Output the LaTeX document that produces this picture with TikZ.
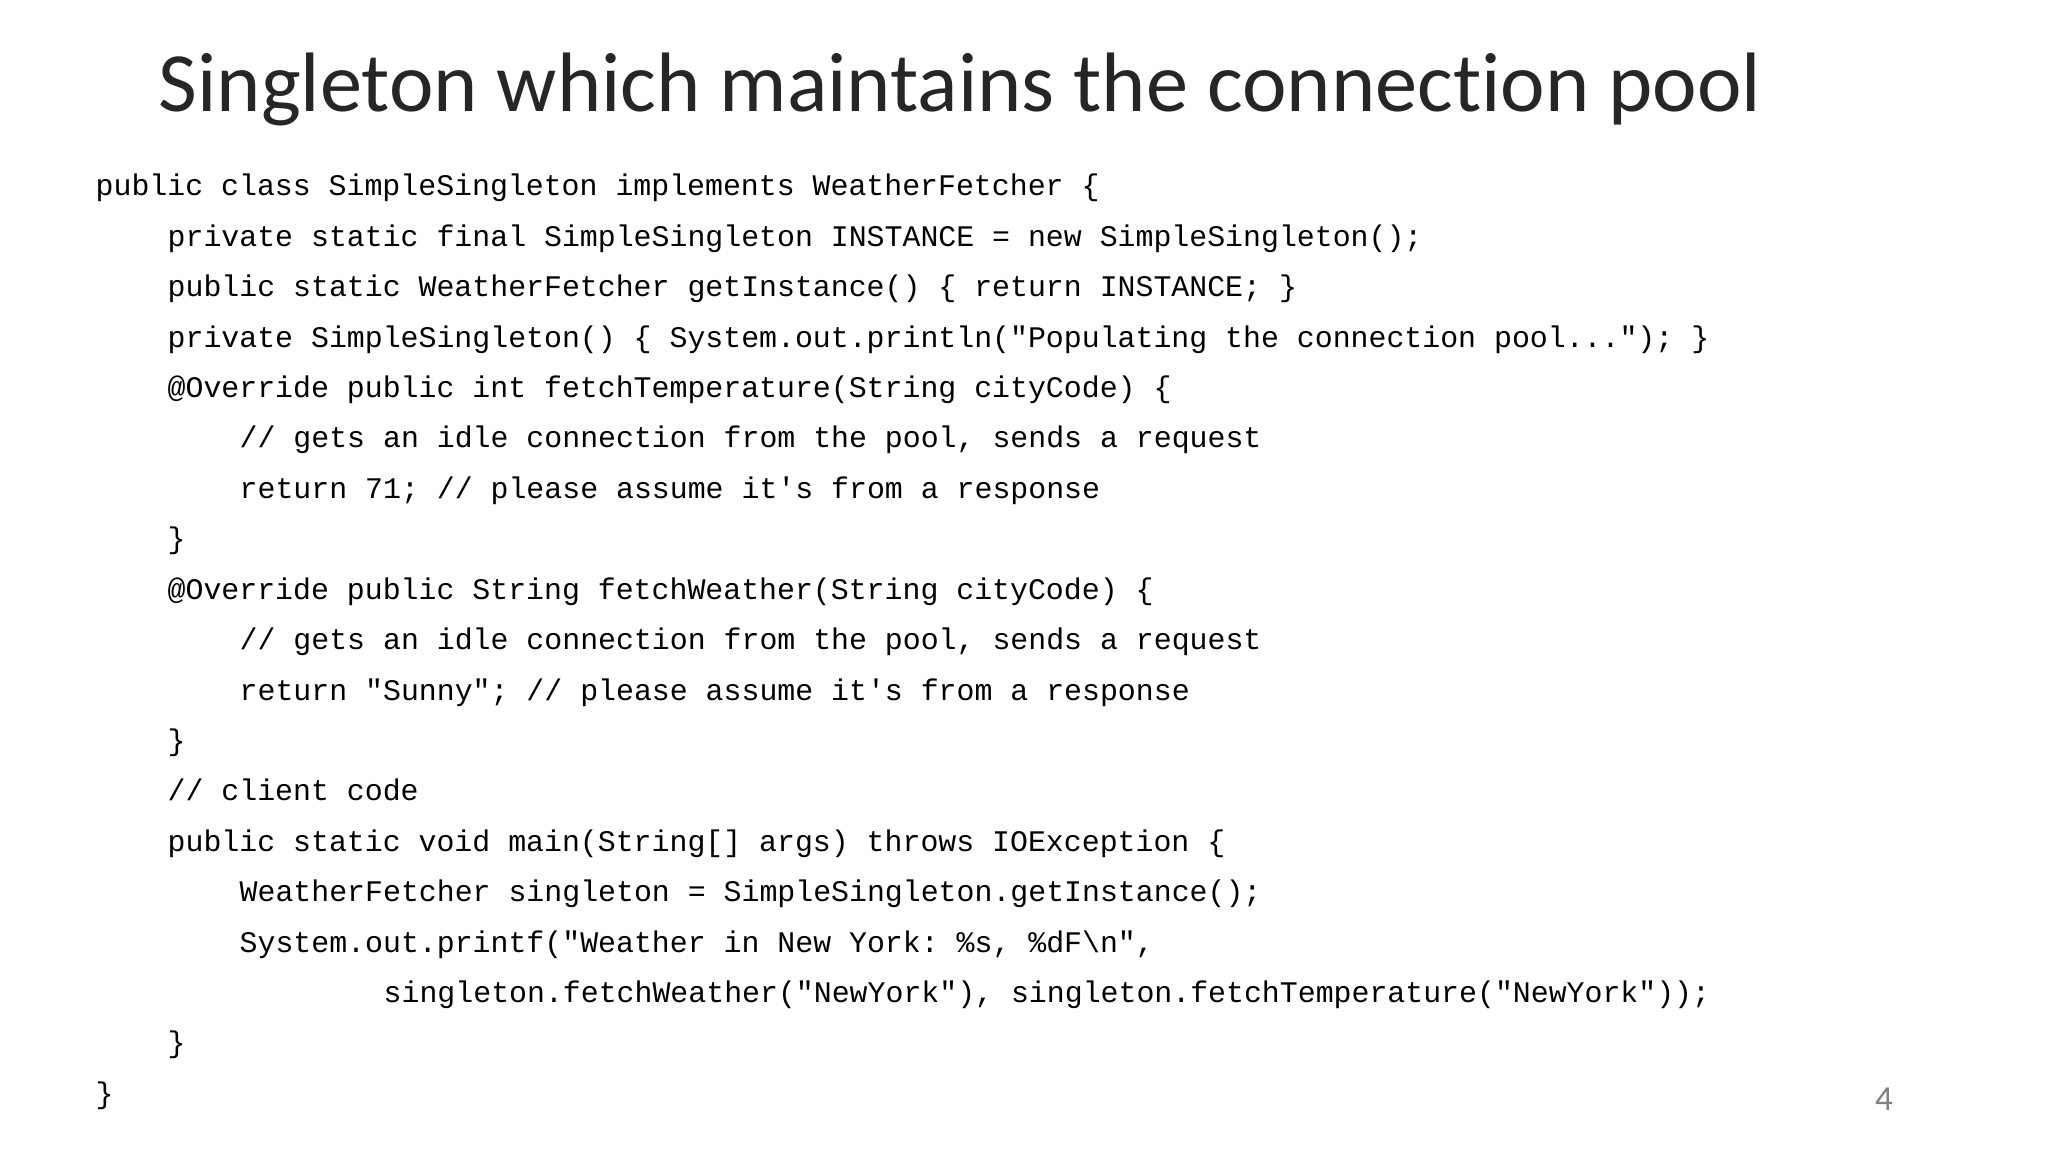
\documentclass[tikz,border=0pt]{standalone}
\usepackage{fontspec}
\setmainfont{Carlito}[Ligatures=NoCommon]
\setmonofont{Liberation Mono}
\usetikzlibrary{positioning}

\begin{document}
\begin{tikzpicture}[
        x=1cm, y=1cm,
        codeline/.style={anchor=base west, inner sep=0pt, font=\fontsize{8.5}{10}\selectfont\ttfamily},
        titletext/.style={anchor=base west, inner sep=0pt, text=black!85, font=\fontsize{24}{29}\selectfont}
      ]
    \useasboundingbox (0,0) rectangle (20.48,-11.52);

    \node[titletext] (title) at (1.58,-1.12) {Singleton which maintains the connection pool};

    \node[codeline] (l1)  at (0.95,-1.96) {public class SimpleSingleton implements WeatherFetcher \{};
    \node[codeline] (l2)  at (1.67,-2.464) {private static final SimpleSingleton INSTANCE = new SimpleSingleton();};
    \node[codeline] (l3)  at (1.67,-2.968) {public static WeatherFetcher getInstance() \{ return INSTANCE; \}};
    \node[codeline] (l4)  at (1.67,-3.472) {private SimpleSingleton() \{ System.out.println("Populating the connection pool..."); \}};
    \node[codeline] (l5)  at (1.67,-3.976) {@Override public int fetchTemperature(String cityCode) \{};
    \node[codeline] (l6)  at (2.39,-4.48) {// gets an idle connection from the pool, sends a request};
    \node[codeline] (l7)  at (2.39,-4.984) {return 71; // please assume it's from a response};
    \node[codeline] (l8)  at (1.67,-5.488) {\}};
    \node[codeline] (l9)  at (1.67,-5.992) {@Override public String fetchWeather(String cityCode) \{};
    \node[codeline] (l10) at (2.39,-6.496) {// gets an idle connection from the pool, sends a request};
    \node[codeline] (l11) at (2.39,-7.0) {return "Sunny"; // please assume it's from a response};
    \node[codeline] (l12) at (1.67,-7.504) {\}};
    \node[codeline] (l13) at (1.67,-8.008) {// client code};
    \node[codeline] (l14) at (1.67,-8.512) {public static void main(String[] args) throws IOException \{};
    \node[codeline] (l15) at (2.39,-9.016) {WeatherFetcher singleton = SimpleSingleton.getInstance();};
    \node[codeline] (l16) at (2.39,-9.52) {System.out.printf("Weather in New York: \%s, \%dF\textbackslash n",};
    \node[codeline] (l17) at (3.83,-10.024) {singleton.fetchWeather("NewYork"), singleton.fetchTemperature("NewYork"));};
    \node[codeline] (l18) at (1.67,-10.528) {\}};
    \node[codeline] (l19) at (0.95,-11.032) {\}};

    \node[anchor=base, inner sep=0pt, text=gray, font=\fontsize{10}{12}\selectfont] (pagenum) at (18.84,-11.1) {4};
\end{tikzpicture}
\end{document}
